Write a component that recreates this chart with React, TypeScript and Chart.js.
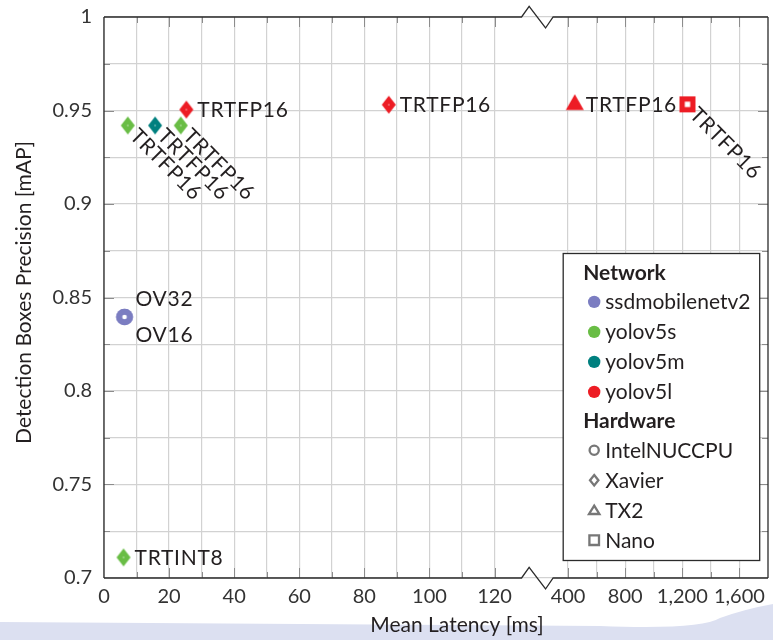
import { useEffect, useRef } from 'react';
import { Chart, registerables } from 'chart.js';

Chart.register(...registerables);

// ---------------- data ----------------
const networkNames = ['ssdmobilenetv2', 'yolov5s', 'yolov5m', 'yolov5l'];
const networkColors = ['#7b7dc1', '#69bd45', '#00807f', '#ed1c24'];
const hardwareNames = ['IntelNUCCPU', 'Xavier', 'TX2', 'Nano'];

const ssdLatency = [6.3, 6.3];
const ssdPrecision = [0.8396, 0.8396];
const ssdHardware = ['IntelNUCCPU', 'IntelNUCCPU'];
const ssdLabels = ['OV32', 'OV16'];
const ssdPlacement = ['above', 'below'];

const yolov5sLatency = [7.3, 23.6, 6.0];
const yolov5sPrecision = [0.942, 0.942, 0.711];
const yolov5sHardware = ['Xavier', 'Xavier', 'Xavier'];
const yolov5sLabels = ['TRTFP16', 'TRTFP16', 'TRTINT8'];
const yolov5sPlacement = ['diag', 'diag', 'right'];

const yolov5mLatency = [15.7];
const yolov5mPrecision = [0.942];
const yolov5mHardware = ['Xavier'];
const yolov5mLabels = ['TRTFP16'];
const yolov5mPlacement = ['diag'];

const yolov5lLatency = [25.3, 87.5, 447, 1236];
const yolov5lPrecision = [0.9505, 0.9531, 0.9531, 0.9533];
const yolov5lHardware = ['Xavier', 'Xavier', 'TX2', 'Nano'];
const yolov5lLabels = ['TRTFP16', 'TRTFP16', 'TRTFP16', 'TRTFP16'];
const yolov5lPlacement = ['right', 'right', 'right', 'diag'];

// axis grid / tick labels (real ms)
const xLeftGrid = [0, 10, 20, 30, 40, 50, 60, 70, 80, 90, 100, 110, 120];
const xRightGrid = [400, 600, 800, 1000, 1200, 1400, 1600];
const xTickLabels = [0, 20, 40, 60, 80, 100, 120, 400, 800, 1200, 1600];
const xMaxReal = 1800;
const yGrid = [0.7, 0.725, 0.75, 0.775, 0.8, 0.825, 0.85, 0.875, 0.9, 0.925, 0.95, 0.975, 1];
const yTickLabels = [0.7, 0.75, 0.8, 0.85, 0.9, 0.95, 1];

const xTitle = 'Mean Latency [ms]';
const yTitle = 'Detection Boxes Precision [mAP]';

// broken axis: left part linear in ms, right part compressed
const RIGHT_OFFSET = 125.04;
const RIGHT_SCALE = 1 / 22.79;
const LEFT_LIMIT = 140;
const BREAK_START = 128.3;
const BREAK_END = 138.0;
const toAxis = (ms: number) => (ms <= LEFT_LIMIT ? ms : RIGHT_OFFSET + ms * RIGHT_SCALE);
const fromAxis = (v: number) => (v <= LEFT_LIMIT ? v : (v - RIGHT_OFFSET) / RIGHT_SCALE);

const FONT = 'Lato';
const TEXT = '#231f20';
const GRID = '#d2d2d2';
const FRAME = '#2b2b2b';
const HW_GRAY = '#777777';

// ---------------- markers ----------------
function makeMarker(color: string, hw: string): HTMLCanvasElement {
  const c = document.createElement('canvas');
  const ctx = c.getContext('2d')!;
  if (hw === 'Xavier') {
    c.width = 16; c.height = 20;
    ctx.fillStyle = color;
    ctx.beginPath();
    ctx.moveTo(8, 1); ctx.lineTo(15, 10); ctx.lineTo(8, 19); ctx.lineTo(1, 10);
    ctx.closePath(); ctx.fill();
    ctx.fillStyle = 'rgba(255,255,255,0.8)';
    ctx.fillRect(7.4, 9.4, 1.2, 1.2);
  } else if (hw === 'IntelNUCCPU') {
    c.width = 20; c.height = 20;
    ctx.fillStyle = color;
    ctx.beginPath(); ctx.arc(10, 10, 8.3, 0, Math.PI * 2); ctx.fill();
    ctx.fillStyle = '#ffffff';
    ctx.beginPath(); ctx.arc(10, 10, 2.3, 0, Math.PI * 2); ctx.fill();
  } else if (hw === 'TX2') {
    c.width = 22; c.height = 22;
    const r = 10.4;
    ctx.fillStyle = color;
    ctx.beginPath();
    ctx.moveTo(11, 11 - r);
    ctx.lineTo(11 + 0.866 * r, 11 + 0.5 * r);
    ctx.lineTo(11 - 0.866 * r, 11 + 0.5 * r);
    ctx.closePath(); ctx.fill();
  } else {
    c.width = 18; c.height = 18;
    ctx.fillStyle = color;
    ctx.fillRect(1, 1, 16, 16);
    ctx.fillStyle = '#ffffff';
    ctx.fillRect(6.3, 6.3, 5.4, 5.4);
  }
  return c;
}

function legendShape(ctx: CanvasRenderingContext2D, hw: string, x: number, y: number) {
  ctx.save();
  ctx.strokeStyle = HW_GRAY;
  ctx.lineWidth = 2.3;
  ctx.beginPath();
  if (hw === 'IntelNUCCPU') {
    ctx.arc(x, y, 4.6, 0, Math.PI * 2);
  } else if (hw === 'Xavier') {
    ctx.moveTo(x, y - 5.2); ctx.lineTo(x + 4.2, y); ctx.lineTo(x, y + 5.2); ctx.lineTo(x - 4.2, y); ctx.closePath();
  } else if (hw === 'TX2') {
    ctx.moveTo(x, y - 4.6); ctx.lineTo(x + 5.2, y + 3.8); ctx.lineTo(x - 5.2, y + 3.8); ctx.closePath();
  } else {
    ctx.rect(x - 4.8, y - 4.8, 9.6, 9.6);
  }
  ctx.stroke();
  ctx.restore();
}

const decorPlugin = {
  id: 'decor',
  beforeDraw(chart: any) {
    const { ctx, width, height } = chart;
    ctx.save();
    ctx.fillStyle = '#dce0f1';
    ctx.beginPath();
    ctx.moveTo(0, 622);
    ctx.lineTo(600, 626);
    ctx.quadraticCurveTo(700, 630, 720, 618);
    ctx.quadraticCurveTo(745, 609, width, 604);
    ctx.lineTo(width, height);
    ctx.lineTo(0, height);
    ctx.closePath();
    ctx.fill();
    ctx.restore();
  },
  afterDatasetsDraw(chart: any) {
    const { ctx, chartArea } = chart;
    const xs = chart.scales.x;
    const ys = chart.scales.y;
    const L = chartArea.left, R = chartArea.right, T = chartArea.top, B = chartArea.bottom;

    // inner tick marks
    ctx.save();
    ctx.strokeStyle = '#8c8c8c';
    ctx.lineWidth = 1;
    const xVals = [...xLeftGrid, ...xRightGrid];
    xVals.forEach((v) => {
      const px = Math.round(xs.getPixelForValue(toAxis(v))) + 0.5;
      if (px <= L + 1) return;
      const len = xTickLabels.includes(v) ? 10 : 6;
      ctx.beginPath();
      ctx.moveTo(px, B); ctx.lineTo(px, B - len);
      ctx.moveTo(px, T); ctx.lineTo(px, T + len);
      ctx.stroke();
    });
    yGrid.forEach((v) => {
      const py = Math.round(ys.getPixelForValue(v)) + 0.5;
      if (py <= T + 1 || py >= B - 1) return;
      const len = yTickLabels.some((t) => Math.abs(t - v) < 1e-9) ? 10 : 6;
      ctx.beginPath();
      ctx.moveTo(L, py); ctx.lineTo(L + len, py);
      ctx.moveTo(R, py); ctx.lineTo(R - len, py);
      ctx.stroke();
    });
    ctx.restore();

    // frame with axis break
    const a = xs.getPixelForValue(BREAK_START);
    const b = xs.getPixelForValue(BREAK_END);
    const w = b - a;
    ctx.save();
    ctx.strokeStyle = FRAME;
    ctx.lineWidth = 1.3;
    ctx.lineJoin = 'miter';
    ctx.beginPath();
    ctx.moveTo(L, T); ctx.lineTo(L, B);
    ctx.moveTo(R, T); ctx.lineTo(R, B);
    [T, B].forEach((y) => {
      ctx.moveTo(L, y); ctx.lineTo(a, y);
      ctx.lineTo(a + w * 0.24, y - 10.6);
      ctx.lineTo(a + w * 0.76, y + 11);
      ctx.lineTo(b, y);
      ctx.lineTo(R, y);
    });
    ctx.stroke();
    ctx.restore();

    // point labels
    ctx.save();
    ctx.fillStyle = TEXT;
    ctx.font = `21px ${FONT}`;
    (ctx as any).letterSpacing = '0.7px';
    ctx.textBaseline = 'alphabetic';
    ctx.textAlign = 'left';
    chart.data.datasets.forEach((ds: any, di: number) => {
      const meta = chart.getDatasetMeta(di);
      meta.data.forEach((el: any, i: number) => {
        const text = ds.pointLabels[i];
        const place = ds.labelPlacement[i];
        const x = el.x, y = el.y;
        if (place === 'right') {
          ctx.fillText(text, x + 11, y + 7.5);
        } else if (place === 'above') {
          ctx.fillText(text, x + 11, y - 18.5 + 7.5);
        } else if (place === 'below') {
          ctx.fillText(text, x + 11, y + 17.5 + 7.5);
        } else {
          ctx.save();
          ctx.translate(x, y);
          ctx.rotate(Math.PI / 4);
          ctx.fillText(text, 9, 7.5);
          ctx.restore();
        }
      });
    });
    ctx.restore();
  },
  afterDraw(chart: any) {
    const { ctx, chartArea } = chart;
    // axis titles
    ctx.save();
    ctx.fillStyle = TEXT;
    ctx.font = `21px ${FONT}`;
    ctx.textAlign = 'center';
    ctx.textBaseline = 'middle';
    ctx.fillText(xTitle, 457, 625);
    ctx.translate(24, 292.5);
    ctx.rotate(-Math.PI / 2);
    ctx.fillText(yTitle, 0, 0);
    ctx.restore();

    // legend
    const lx = chartArea.right - 204.8;
    const ly = 253.5;
    const lw = 196.5;
    const lh = 307;
    ctx.save();
    ctx.fillStyle = '#ffffff';
    ctx.fillRect(lx, ly, lw, lh);
    ctx.strokeStyle = FRAME;
    ctx.lineWidth = 1.3;
    ctx.strokeRect(lx, ly, lw, lh);
    ctx.textAlign = 'left';
    ctx.textBaseline = 'alphabetic';
    ctx.fillStyle = TEXT;
    ctx.font = `bold 21px ${FONT}`;
    ctx.fillText('Network', lx + 20, ly + 19.4 + 7.5);
    networkNames.forEach((n, i) => {
      const cy = ly + 48.4 + i * 30;
      ctx.fillStyle = networkColors[i];
      ctx.beginPath(); ctx.arc(lx + 31, cy, 6.2, 0, Math.PI * 2); ctx.fill();
      ctx.fillStyle = TEXT;
      ctx.font = `21px ${FONT}`;
      ctx.fillText(n, lx + 42, cy + 7.5);
    });
    ctx.font = `bold 21px ${FONT}`;
    ctx.fillText('Hardware', lx + 20, ly + 166.7 + 7.5);
    hardwareNames.forEach((h, i) => {
      const cy = ly + 196.7 + i * 30;
      legendShape(ctx, h, lx + 31, cy);
      ctx.fillStyle = TEXT;
      ctx.font = `21px ${FONT}`;
      ctx.fillText(h, lx + 42, cy + 7.5);
    });
    ctx.restore();
  },
};

export default function App() {
  const ref = useRef<HTMLCanvasElement | null>(null);

  useEffect(() => {
    if (!ref.current) return;
    const series = [
      { lat: ssdLatency, prec: ssdPrecision, hw: ssdHardware, labels: ssdLabels, place: ssdPlacement },
      { lat: yolov5sLatency, prec: yolov5sPrecision, hw: yolov5sHardware, labels: yolov5sLabels, place: yolov5sPlacement },
      { lat: yolov5mLatency, prec: yolov5mPrecision, hw: yolov5mHardware, labels: yolov5mLabels, place: yolov5mPlacement },
      { lat: yolov5lLatency, prec: yolov5lPrecision, hw: yolov5lHardware, labels: yolov5lLabels, place: yolov5lPlacement },
    ];
    const datasets = series.map((s, i) => ({
      label: networkNames[i],
      data: s.lat.map((ms, j) => ({ x: toAxis(ms), y: s.prec[j] })),
      pointStyle: s.hw.map((h) => makeMarker(networkColors[i], h)),
      backgroundColor: networkColors[i],
      borderColor: networkColors[i],
      pointLabels: s.labels,
      labelPlacement: s.place,
    }));

    const xGridAxis = [...xLeftGrid, ...xRightGrid].map(toAxis);
    const tickFont = { family: FONT, size: 20 };

    const chart = new Chart(ref.current, {
      type: 'scatter',
      data: { datasets } as any,
      options: {
        animation: false,
        responsive: false,
        devicePixelRatio: 1,
        layout: { padding: { left: 0, top: 17, right: 0.7, bottom: 0 } },
        plugins: { legend: { display: false }, tooltip: { enabled: false } },
        scales: {
          x: {
            type: 'linear',
            min: 0,
            max: toAxis(xMaxReal),
            afterFit: (s: any) => { s.height = 62; s.paddingLeft = 0; s.paddingRight = 0; },
            afterBuildTicks: (s: any) => { s.ticks = xGridAxis.map((v) => ({ value: v })); },
            grid: { color: GRID, lineWidth: 1.2, drawTicks: false },
            border: { display: false },
            ticks: {
              autoSkip: false,
              maxRotation: 0,
              padding: 7,
              color: '#333333',
              font: tickFont,
              callback: (v: any) => {
                const real = Math.round(fromAxis(Number(v)));
                return xTickLabels.includes(real) ? real.toLocaleString('en-US') : '';
              },
            },
          },
          y: {
            type: 'linear',
            min: 0.7,
            max: 1,
            afterFit: (s: any) => { s.width = 104; s.paddingTop = 0; s.paddingBottom = 0; },
            afterBuildTicks: (s: any) => { s.ticks = yGrid.map((v) => ({ value: v })); },
            grid: { color: GRID, lineWidth: 1.2, drawTicks: false },
            border: { display: false },
            ticks: {
              autoSkip: false,
              padding: 12,
              color: '#333333',
              font: tickFont,
              callback: (v: any) => {
                const n = Number(v);
                const hit = yTickLabels.find((t) => Math.abs(t - n) < 1e-6);
                return hit === undefined ? '' : String(hit);
              },
            },
          },
        },
      } as any,
      plugins: [decorPlugin],
    });
    return () => chart.destroy();
  }, []);

  return (
    <div style={{ position: 'fixed', left: 0, top: 0, width: 773, height: 640, background: '#ffffff' }}>
      <canvas ref={ref} width={773} height={640} style={{ display: 'block', width: 773, height: 640 }} />
    </div>
  );
}
